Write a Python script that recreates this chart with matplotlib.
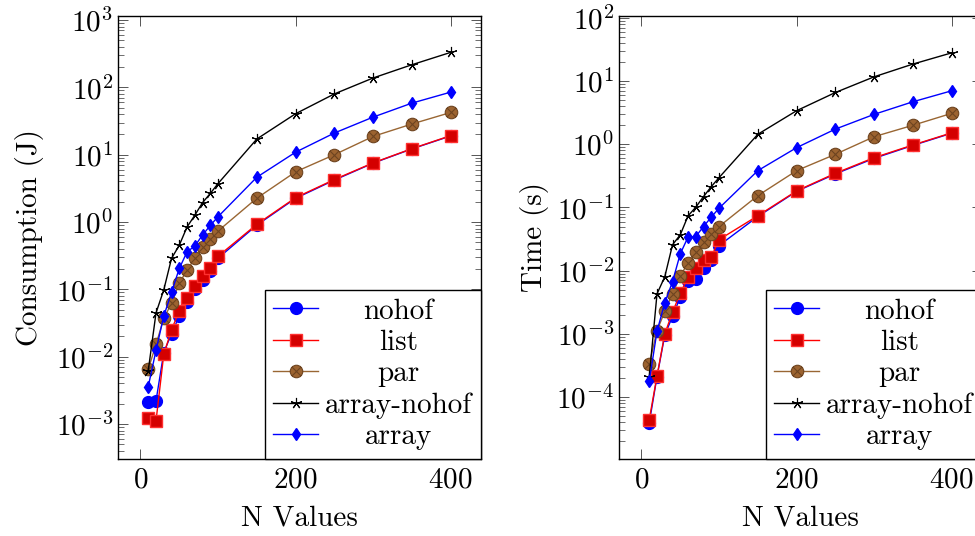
import numpy as np
import matplotlib
matplotlib.use("Agg")
import matplotlib.pyplot as plt
from matplotlib.path import Path
from matplotlib.ticker import LogLocator, NullFormatter, FixedLocator

plt.rcParams["font.family"] = ["cmr10", "DejaVu Serif"]
plt.rcParams["mathtext.fontset"] = "cm"
plt.rcParams["axes.formatter.use_mathtext"] = True
plt.rcParams["font.size"] = 21

# data
n_values = [10, 20, 30, 40, 50, 60, 70, 80, 90, 100, 150, 200, 250, 300, 350, 400]
labels = ["nohof", "list", "par", "array-nohof", "array"]

# energy (J)
nohof_j = [0.0021, 0.0022, 0.0115, 0.022, 0.040, 0.065, 0.100, 0.140, 0.190, 0.290,
           0.90, 2.25, 4.2, 7.5, 12.2, 19.0]
list_j = [0.00123, 0.00111, 0.0108, 0.025, 0.048, 0.074, 0.113, 0.156, 0.204, 0.31,
          0.925, 2.3, 4.28, 7.57, 12.3, 19.2]
par_j = [0.0065, 0.0152, 0.037, 0.062, 0.123, 0.193, 0.29, 0.427, 0.555, 0.736,
         2.26, 5.57, 10.0, 18.7, 28.6, 42.4]
array_nohof_j = [0.0062, 0.0446, 0.098, 0.288, 0.452, 0.843, 1.26, 1.94, 2.66, 3.73,
                 17.1, 40.6, 80, 138, 217, 331]
array_j = [0.0036, 0.0124, 0.040, 0.090, 0.204, 0.36, 0.44, 0.64, 0.89, 1.2,
           4.63, 10.9, 21, 36.2, 58.4, 85]

# time (s)
nohof_s = [3.9e-5, 2.1e-4, 9.5e-4, 0.0019, 0.0038, 0.0068, 0.0074, 0.011, 0.0145, 0.025,
           0.072, 0.18, 0.34, 0.60, 0.96, 1.5]
list_s = [4.4e-5, 2.15e-4, 1.0e-3, 0.0022, 0.0044, 0.0078, 0.011, 0.0149, 0.0164, 0.031,
          0.074, 0.183, 0.348, 0.615, 0.975, 1.52]
par_s = [3.35e-4, 1.12e-3, 2.27e-3, 4.3e-3, 8.3e-3, 0.0132, 0.0194, 0.0284, 0.038, 0.050,
         0.154, 0.383, 0.695, 1.32, 2.0, 3.09]
array_nohof_s = [2.1e-4, 4.3e-3, 8.0e-3, 0.0257, 0.037, 0.0736, 0.101, 0.149, 0.214, 0.297,
                 1.44, 3.4, 6.6, 11.7, 18.6, 28]
array_s = [1.78e-4, 1.1e-3, 3.1e-3, 6.7e-3, 0.0185, 0.034, 0.0347, 0.050, 0.0705, 0.0975,
           0.383, 0.885, 1.74, 2.98, 4.71, 7.03]

# circle with a cross (pgfplots otimes*)
otimes = Path.make_compound_path(
    Path.unit_circle(),
    Path([[-0.707, -0.707], [0.707, 0.707]], [Path.MOVETO, Path.LINETO]),
    Path([[-0.707, 0.707], [0.707, -0.707]], [Path.MOVETO, Path.LINETO]),
)

styles = [
    dict(color="#0000ff", marker="o", ms=8.5, mfc="#0000ff", mec="#0000ff"),
    dict(color="#ff0000", marker="s", ms=8.0, mfc="#d40000", mec="#ff3030"),
    dict(color="#996633", marker=otimes, ms=9.0, mfc="#9c6330", mec="#6e4420", mew=0.8),
    dict(color="black", marker=(5, 2, 0), ms=8.0, mfc="black", mec="black", mew=0.8),
    dict(color="#0000ff", marker="d", ms=6.0, mfc="#0000ff", mec="#0000ff"),
]


def draw_panel(ax, series, ylim, ylabel, ylabelpad):
    for y, lab, st in zip(series, labels, styles):
        ax.plot(n_values, y, lw=1.0, label=lab, **st)
    ax.set_yscale("log")
    ax.set_xlim(-29, 439)
    ax.set_ylim(*ylim)
    ax.xaxis.set_major_locator(FixedLocator([0, 200, 400]))
    ax.yaxis.set_major_locator(LogLocator(base=10, numticks=30))
    ax.yaxis.set_minor_locator(LogLocator(base=10, subs=np.arange(2, 10), numticks=30))
    ax.yaxis.set_minor_formatter(NullFormatter())
    ax.tick_params(which="both", direction="in", top=True, right=True, color="#555555",
                   labelsize=21)
    ax.tick_params(which="major", length=7.5, width=0.7)
    ax.tick_params(which="minor", length=4, width=0.6)
    ax.tick_params(axis="y", pad=3.5)
    ax.tick_params(axis="x", pad=6)
    for sp in ax.spines.values():
        sp.set_linewidth(1.0)
    ax.set_xlabel("N Values", labelpad=8)
    ax.set_ylabel(ylabel, labelpad=ylabelpad)
    leg = ax.legend(loc="lower right", bbox_to_anchor=(1, 0), borderaxespad=0,
                    fancybox=False, framealpha=1, edgecolor="black",
                    handlelength=1.54, handletextpad=0.23, labelspacing=0.17,
                    borderpad=0.3, numpoints=1)
    leg.get_frame().set_linewidth(1.0)
    return leg


fig = plt.figure(figsize=(9.75, 5.36), dpi=100)
ax1 = fig.add_axes([118 / 975, 1 - 459 / 536, 363 / 975, 443 / 536])
ax2 = fig.add_axes([619 / 975, 1 - 459 / 536, 363 / 975, 443 / 536])

leg1 = draw_panel(ax1, [nohof_j, list_j, par_j, array_nohof_j, array_j],
                  (10 ** -3.52, 10 ** 3.06), "Consumption (J)", 8.5)
leg2 = draw_panel(ax2, [nohof_s, list_s, par_s, array_nohof_s, array_s],
                  (10 ** -4.98, 10 ** 2.03), "Time (s)", 5.5)

# center the legend labels in their column
fig.canvas.draw()
r = fig.canvas.get_renderer()
for leg in (leg1, leg2):
    texts = leg.get_texts()
    widths = [t.get_window_extent(r).width for t in texts]
    wmax = max(widths)
    for t, w in zip(texts, widths):
        t.set_x((wmax - w) / 2)

fig.savefig("out.png", dpi=100)
